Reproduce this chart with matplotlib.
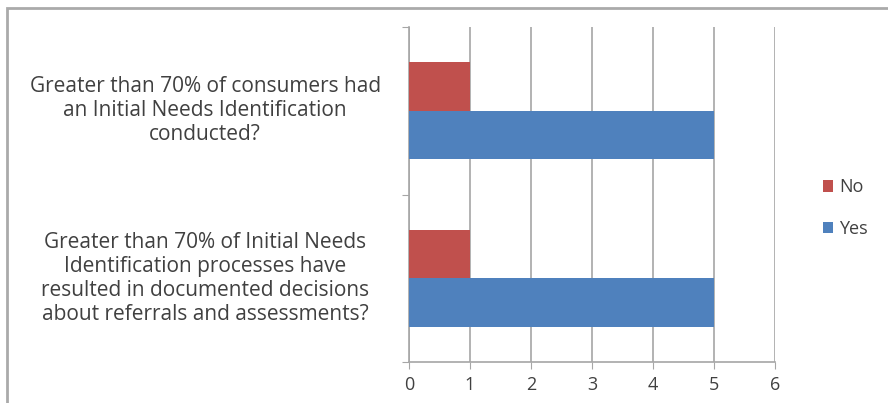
import matplotlib.pyplot as plt
from matplotlib.patches import Rectangle
import matplotlib.transforms as mtransforms
import numpy as np

categories = [
    "Greater than 70% of consumers had\nan Initial Needs Identification\nconducted?",
    "Greater than 70% of Initial Needs\nIdentification processes have\nresulted in documented decisions\nabout referrals and assessments?",
]
no_values = [1, 1]
yes_values = [5, 5]

plt.rcParams['font.family'] = ['Open Sans', 'DejaVu Sans']
text_color = '#404040'
grid_color = '#a6a6a6'

fig = plt.figure(figsize=(8.88, 4.03), dpi=100)
ax = fig.add_axes([0.4606, 0.1017, 0.4121, 0.8313])

y = np.arange(len(categories))
h = 0.29
ax.barh(y - h / 2, no_values, height=h, color='#C0504D', label='No', zorder=3)
ax.barh(y + h / 2, yes_values, height=h, color='#4F81BD', label='Yes', zorder=3)

ax.set_xlim(0, 6)
ax.set_ylim(len(categories) - 0.5, -0.5)
ax.set_xticks(range(0, 7))
ax.tick_params(axis='x', colors=grid_color, labelcolor=text_color, labelsize=13,
               length=5, direction='out', pad=5)
ax.grid(axis='x', color=grid_color, linewidth=1.2, zorder=0)

# category labels placed centered, boundaries as ticks
ax.set_yticks([-0.5, 0.5, 1.5])
ax.set_yticklabels([])
ax.tick_params(axis='y', colors=grid_color, length=5)
trans = mtransforms.blended_transform_factory(fig.transFigure, ax.transData)
for yi, label in zip(y, categories):
    ax.text(0.231, yi, label, ha='center', va='center', fontsize=15,
            color=text_color, linespacing=1.18, transform=trans)

for side in ['top', 'right']:
    ax.spines[side].set_visible(False)
for side in ['left', 'bottom']:
    ax.spines[side].set_color(grid_color)
    ax.spines[side].set_linewidth(1.2)

handles, labels = ax.get_legend_handles_labels()
fig.legend(handles, labels, loc='center left', bbox_to_anchor=(0.908, 0.484),
           frameon=False, fontsize=13, labelcolor=text_color,
           handlelength=0.6, handleheight=0.6, handletextpad=0.3, labelspacing=1.3)

fig.patches.append(Rectangle((0.008, -0.05), 1.2, 1.03, transform=fig.transFigure,
                             fill=False, edgecolor='#aaaaaa', linewidth=2))

fig.savefig('out.png', dpi=100)
